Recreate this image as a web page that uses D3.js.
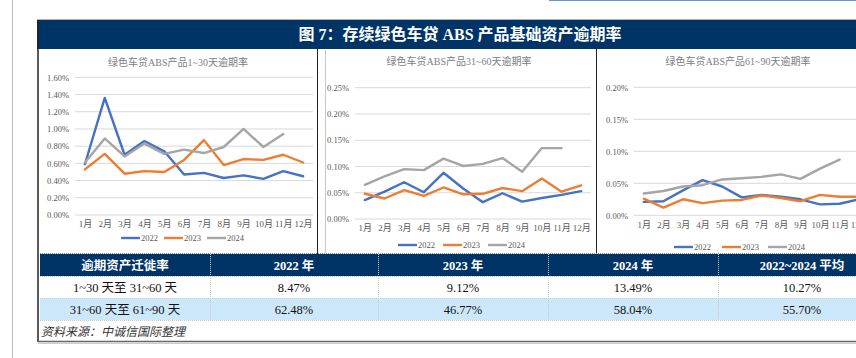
<!DOCTYPE html>
<html><head><meta charset="utf-8">
<script src="https://cdn.jsdelivr.net/npm/d3@7"></script>
<style>
body{margin:0;background:#fff;}
svg{display:block;}
</style></head>
<body>
<svg id="c" width="856" height="358"></svg>
<script>
const months = ["1月","2月","3月","4月","5月","6月","7月","8月","9月","10月","11月","12月"];
const seriesNames = ["2022","2023","2024"];
const colors = ["#4472C4","#ED7D31","#A5A5A5"];

// 1~30 days (%)
const d130_2022 = [0.59,1.36,0.70,0.86,0.74,0.47,0.49,0.43,0.46,0.42,0.51,0.45];
const d130_2023 = [0.53,0.71,0.48,0.51,0.50,0.64,0.87,0.58,0.65,0.64,0.70,0.61];
const d130_2024 = [0.61,0.89,0.68,0.83,0.71,0.76,0.72,0.79,1.00,0.79,0.94];
// 31~60 days (%)
const d3160_2022 = [0.036,0.052,0.070,0.051,0.088,0.058,0.032,0.049,0.033,0.040,0.046,0.053];
const d3160_2023 = [0.048,0.039,0.055,0.044,0.060,0.047,0.048,0.059,0.053,0.077,0.052,0.064];
const d3160_2024 = [0.065,0.081,0.095,0.093,0.115,0.101,0.105,0.116,0.090,0.135,0.135];
// 61~90 days (%)
const d6190_2022 = [0.021,0.022,0.039,0.055,0.045,0.028,0.032,0.029,0.025,0.017,0.018,0.025];
const d6190_2023 = [0.026,0.012,0.025,0.019,0.023,0.024,0.031,0.027,0.022,0.032,0.029,0.029];
const d6190_2024 = [0.034,0.038,0.045,0.047,0.056,0.058,0.060,0.064,0.057,0.073,0.087];

const chartTitles = ["绿色车贷ABS产品1~30天逾期率","绿色车贷ABS产品31~60天逾期率","绿色车贷ABS产品61~90天逾期率"];
const yTicks1 = [0,0.2,0.4,0.6,0.8,1.0,1.2,1.4,1.6];
const yTicks2 = [0,0.05,0.10,0.15,0.20,0.25];
const yTicks3 = [0,0.05,0.10,0.15,0.20];

const tableHeader = ["逾期资产迁徙率","2022 年","2023 年","2024 年","2022~2024 平均"];
const tableRows = [
  ["1~30 天至 31~60 天","8.47%","9.12%","13.49%","10.27%"],
  ["31~60 天至 61~90 天","62.48%","46.77%","58.04%","55.70%"]
];
const figTitle = "图 7：存续绿色车贷 ABS 产品基础资产逾期率";
const sourceText = "资料来源：中诚信国际整理";

const svg = d3.select("#c");
const NAVY = "#003366";
const SERIF = "'Liberation Serif','Times New Roman','Noto Sans CJK SC',serif";

// left page line
svg.append("line").attr("x1",12.5).attr("x2",12.5).attr("y1",0).attr("y2",358).attr("stroke","#bdbdbd").attr("stroke-width",1);
// top thin blue line
svg.append("line").attr("x1",549).attr("x2",856).attr("y1",0.5).attr("y2",0.5).attr("stroke","#5b9bd5").attr("stroke-width",1);

// title bar
svg.append("line").attr("x1",37).attr("x2",856).attr("y1",19.5).attr("y2",19.5).attr("stroke","#b0b0b0");
svg.append("rect").attr("x",37).attr("y",20).attr("width",830).attr("height",29).attr("fill",NAVY);
svg.append("line").attr("x1",38).attr("x2",38).attr("y1",20).attr("y2",49).attr("stroke","#222").attr("stroke-width",1.5);
svg.append("text").attr("x",460).attr("y",40).attr("text-anchor","middle")
  .attr("fill","#fff").attr("font-size",16).attr("font-weight","bold").attr("font-family",SERIF).text(figTitle);

function drawChart(cfg){
  const g = svg.append("g");
  const x = d3.scalePoint().domain(months).range([cfg.x0,cfg.x1]).padding(0.5);
  const y = d3.scaleLinear().domain([0,cfg.ymax]).range([cfg.yb,cfg.yt]);
  // gridlines
  g.selectAll(".grid").data(cfg.ticks).join("line")
    .attr("x1",cfg.x0).attr("x2",cfg.gx1).attr("y1",d=>y(d)).attr("y2",d=>y(d))
    .attr("stroke","#d9d9d9").attr("stroke-width",1);
  // y axis labels
  const yAxis = d3.axisLeft(y).tickValues(cfg.ticks).tickSize(0).tickPadding(0).tickFormat(d=>d.toFixed(2)+"%");
  const ya = g.append("g").attr("transform",`translate(${cfg.lx},0)`).call(yAxis);
  ya.select(".domain").remove();
  ya.selectAll("text").attr("font-family",SERIF).attr("font-size",8.5).attr("fill","#595959");
  // x axis labels
  const xAxis = d3.axisBottom(x).tickSize(0).tickPadding(0);
  const xa = g.append("g").attr("transform",`translate(0,${cfg.xly})`).call(xAxis);
  xa.select(".domain").remove();
  xa.selectAll("text").attr("font-family",SERIF).attr("font-size",9).attr("fill","#595959");
  // lines
  const line = d3.line().x((d,i)=>x(months[i])).y(d=>y(d));
  cfg.series.forEach((s,k)=>{
    g.append("path").datum(s).attr("d",line).attr("fill","none")
      .attr("stroke",colors[k]).attr("stroke-width",2.4).attr("stroke-linejoin","round").attr("stroke-linecap","round");
  });
  // title
  g.append("text").attr("x",cfg.tx).attr("y",cfg.ty).attr("text-anchor","middle")
    .attr("font-family",SERIF).attr("font-size",10).attr("fill","#808080").text(cfg.title);
  // legend
  seriesNames.forEach((n,k)=>{
    const lx = cfg.legX[k];
    g.append("line").attr("x1",lx).attr("x2",lx+19).attr("y1",cfg.legY).attr("y2",cfg.legY)
      .attr("stroke",colors[k]).attr("stroke-width",2.4);
    g.append("text").attr("x",lx+20).attr("y",cfg.legY+3).attr("font-family",SERIF)
      .attr("font-size",8.5).attr("fill","#595959").text(n);
  });
}

drawChart({x0:75,x1:313,gx1:313,yb:215,yt:77.3,ymax:1.6,ticks:yTicks1,lx:69,xly:221,
  series:[d130_2022,d130_2023,d130_2024],title:chartTitles[0],tx:178,ty:66,
  legX:[121,164,207],legY:238});
drawChart({x0:355,x1:591,gx1:591,yb:219,yt:87.7,ymax:0.25,ticks:yTicks2,lx:349,xly:225,
  series:[d3160_2022,d3160_2023,d3160_2024],title:chartTitles[1],tx:459,ty:65,
  legX:[398,443,488],legY:245});
drawChart({x0:634,x1:869,gx1:856,yb:215.3,yt:87.3,ymax:0.2,ticks:yTicks3,lx:628,xly:222,
  series:[d6190_2022,d6190_2023,d6190_2024],title:chartTitles[2],tx:738,ty:65,
  legX:[674,722,768],legY:247});

// chart cell borders
svg.append("line").attr("x1",38).attr("x2",38).attr("y1",49).attr("y2",342).attr("stroke","#222").attr("stroke-width",1.5);
svg.append("line").attr("x1",317.5).attr("x2",317.5).attr("y1",49).attr("y2",254).attr("stroke","#222").attr("stroke-width",1);
svg.append("line").attr("x1",325.5).attr("x2",325.5).attr("y1",50).attr("y2",253).attr("stroke","#c8c8c8").attr("stroke-width",1);
svg.append("line").attr("x1",596.5).attr("x2",596.5).attr("y1",49).attr("y2",254).attr("stroke","#222").attr("stroke-width",1);
svg.append("line").attr("x1",38).attr("x2",856).attr("y1",253.5).attr("y2",253.5).attr("stroke","#888").attr("stroke-dasharray","1,1");

// table
const colX = [40,210,378,548,718,886];
const rowY = [254,276,298,320];
const tg = svg.append("g");
tg.append("rect").attr("x",colX[0]).attr("y",rowY[0]).attr("width",856-colX[0]).attr("height",rowY[1]-rowY[0]).attr("fill",NAVY);
tg.append("rect").attr("x",colX[0]).attr("y",rowY[2]).attr("width",856-colX[0]).attr("height",rowY[3]-rowY[2]).attr("fill","#cce8fa");
// cell separators
for(let i=1;i<5;i++){
  tg.append("line").attr("x1",colX[i]+0.5).attr("x2",colX[i]+0.5).attr("y1",rowY[0]).attr("y2",rowY[3])
    .attr("stroke","#c8c8c8").attr("stroke-dasharray","1,1");
}
[rowY[1],rowY[2],rowY[3]].forEach(yy=>{
  tg.append("line").attr("x1",colX[0]).attr("x2",856).attr("y1",yy+0.5).attr("y2",yy+0.5)
    .attr("stroke","#c8c8c8").attr("stroke-dasharray","1,1");
});
tableHeader.forEach((h,i)=>{
  tg.append("text").attr("x",(colX[i]+colX[i+1])/2).attr("y",rowY[0]+16).attr("text-anchor","middle")
    .attr("fill","#fff").attr("font-weight","bold").attr("font-size",12.5).attr("font-family",SERIF).text(h);
});
tableRows.forEach((r,j)=>{
  r.forEach((c,i)=>{
    tg.append("text").attr("x",(colX[i]+colX[i+1])/2).attr("y",rowY[j+1]+16).attr("text-anchor","middle")
      .attr("fill","#111").attr("font-size",12.5).attr("font-family",SERIF).text(c);
  });
});
tg.append("text").attr("x",41).attr("y",336).attr("font-size",12).attr("font-style","italic")
  .attr("fill","#333").attr("font-family",SERIF).text(sourceText);
// bottom border
svg.append("line").attr("x1",38).attr("x2",856).attr("y1",341.5).attr("y2",341.5).attr("stroke","#666").attr("stroke-width",1.5);
svg.append("line").attr("x1",38).attr("x2",856).attr("y1",343.5).attr("y2",343.5).attr("stroke","#ccc").attr("stroke-width",1);
</script>
</body></html>
